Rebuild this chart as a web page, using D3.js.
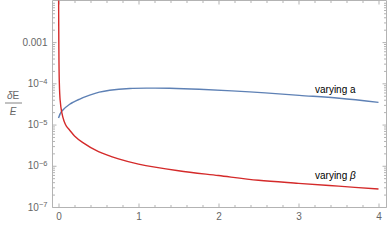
<!DOCTYPE html>
<html>
<head>
<meta charset="utf-8">
<script src="https://cdn.jsdelivr.net/npm/d3@7"></script>
<style>
  body { margin: 0; background: #fff; }
  svg { display: block; font-family: "Liberation Sans", Arial, sans-serif; }
  .frame path, .frame line { stroke: #b3b3b3; }
  .frame text { fill: #666; font-size: 10px; }
</style>
</head>
<body>
<div id="chart"></div>
<script>
let width = 390, height = 242;

// varying a (blue)
let xA = [0, 0.04, 0.14, 0.26, 0.39, 0.51, 0.64, 0.89, 1.14, 1.39, 1.76, 2.39, 3.01, 3.51, 4.0];
let yA = [1.45e-5, 2.1e-5, 3.1e-5, 4.1e-5, 5.15e-5, 6.1e-5, 6.8e-5, 7.5e-5, 7.65e-5, 7.6e-5, 7.2e-5, 6.2e-5, 5.1e-5, 4.35e-5, 3.45e-5];

// varying beta (red)
let xB = [0.001, 0.004, 0.01, 0.02, 0.04, 0.07, 0.1, 0.14, 0.2, 0.3, 0.5, 0.75, 1, 1.5, 2, 2.5, 3, 3.5, 4];
let yB = [3e-2, 1e-3, 1.1e-4, 4e-5, 2e-5, 1.2e-5, 9e-6, 7.3e-6, 5.3e-6, 3.7e-6, 2.2e-6, 1.47e-6, 1.1e-6, 7.6e-7, 5.8e-7, 4.45e-7, 3.75e-7, 3.2e-7, 2.73e-7];

let xTicks = [0, 1, 2, 3, 4];
let yTicks = [1e-7, 1e-6, 1e-5, 1e-4, 1e-3];
let yTickLabels = [["10", "\u22127"], ["10", "\u22126"], ["10", "\u22125"], ["10", "\u22124"], ["0.001", null]];

let x = d3.scaleLinear().domain([0, 4]).range([58.5, 378.5]);
let y = d3.scaleLog().domain([1e-7, 0.0105]).range([207, 0]);

let fLeft = 52.5, fRight = 386.5, fTop = 0.5, fBottom = 207.5;

let svg = d3.select("#chart").append("svg")
    .attr("width", width)
    .attr("height", height);

// minor tick values
let xMinor = d3.range(0, 4.01, 0.2).filter(v => Math.abs(v - Math.round(v)) > 1e-6);
let yMinor = [];
for (let e = -7; e <= -3; e++) {
    for (let m = 2; m <= 9; m++) yMinor.push(m * Math.pow(10, e));
}

// bottom axis
svg.append("g").attr("class", "frame")
    .attr("transform", `translate(0,${fBottom})`)
    .call(d3.axisBottom(x).tickValues(xTicks).tickFormat(d3.format("d"))
        .tickSizeInner(-4).tickSizeOuter(0).tickPadding(5))
    .call(g => g.select(".domain").attr("d", `M${fLeft},0H${fRight}`));
svg.append("g").attr("class", "frame")
    .attr("transform", `translate(0,${fBottom})`)
    .call(d3.axisBottom(x).tickValues(xMinor).tickSizeInner(-2.5).tickSizeOuter(0).tickFormat(""))
    .call(g => g.select(".domain").remove());

// top frame
svg.append("g").attr("class", "frame")
    .attr("transform", `translate(0,${fTop})`)
    .call(d3.axisTop(x).tickValues(xTicks).tickSizeInner(-4).tickSizeOuter(0).tickFormat(""))
    .call(g => g.select(".domain").attr("d", `M${fLeft},0H${fRight}`));
svg.append("g").attr("class", "frame")
    .attr("transform", `translate(0,${fTop})`)
    .call(d3.axisTop(x).tickValues(xMinor).tickSizeInner(-2.5).tickSizeOuter(0).tickFormat(""))
    .call(g => g.select(".domain").remove());

// left axis
let yAxis = svg.append("g").attr("class", "frame")
    .attr("transform", `translate(${fLeft},0)`)
    .call(d3.axisLeft(y).tickValues(yTicks).tickSizeInner(-4).tickSizeOuter(0).tickPadding(5))
    .call(g => g.select(".domain").attr("d", `M0,${fTop}V${fBottom}`));
yAxis.selectAll(".tick text").each(function(d, i) {
    let t = d3.select(this).text("");
    let lab = yTickLabels[i];
    t.append("tspan").text(lab[0]);
    if (lab[1]) t.append("tspan").attr("dy", "-0.45em").attr("font-size", "7.5px").text(lab[1]);
});
svg.append("g").attr("class", "frame")
    .attr("transform", `translate(${fLeft},0)`)
    .call(d3.axisLeft(y).tickValues(yMinor).tickSizeInner(-2.5).tickSizeOuter(0).tickFormat(""))
    .call(g => g.select(".domain").remove());

// right frame
svg.append("g").attr("class", "frame")
    .attr("transform", `translate(${fRight},0)`)
    .call(d3.axisRight(y).tickValues(yTicks).tickSizeInner(-4).tickSizeOuter(0).tickFormat(""))
    .call(g => g.select(".domain").attr("d", `M0,${fTop}V${fBottom}`));
svg.append("g").attr("class", "frame")
    .attr("transform", `translate(${fRight},0)`)
    .call(d3.axisRight(y).tickValues(yMinor).tickSizeInner(-2.5).tickSizeOuter(0).tickFormat(""))
    .call(g => g.select(".domain").remove());

// clip to plot area
svg.append("clipPath").attr("id", "clip")
    .append("rect")
    .attr("x", fLeft).attr("y", fTop)
    .attr("width", fRight - fLeft).attr("height", fBottom - fTop);

let line = d3.line()
    .x(d => x(d[0]))
    .y(d => y(d[1]))
    .curve(d3.curveCatmullRom.alpha(0.5));

let plot = svg.append("g").attr("clip-path", "url(#clip)");

plot.append("path")
    .datum(d3.zip(xA, yA))
    .attr("d", line)
    .attr("fill", "none")
    .attr("stroke", "#5e81b5")
    .attr("stroke-width", 1.4);

plot.append("path")
    .datum(d3.zip(xB, yB))
    .attr("d", line)
    .attr("fill", "none")
    .attr("stroke", "#d42a2a")
    .attr("stroke-width", 1.4);

// curve labels
svg.append("text")
    .attr("x", 315).attr("y", 93)
    .attr("font-size", "10px").attr("fill", "#000")
    .text("varying a");

let lb = svg.append("text")
    .attr("x", 315).attr("y", 178.5)
    .attr("font-size", "10px").attr("fill", "#000")
    .text("varying ");
lb.append("tspan").attr("font-style", "italic").text("\u03b2");

// y label as a fraction
let yl = svg.append("g").attr("fill", "#666").attr("font-size", "10px").attr("text-anchor", "middle");
let num = yl.append("text").attr("x", 13).attr("y", 99);
num.append("tspan").attr("font-style", "italic").text("\u03b4");
num.append("tspan").text("E");
yl.append("line")
    .attr("x1", 5).attr("x2", 22)
    .attr("y1", 103).attr("y2", 103)
    .attr("stroke", "#666").attr("stroke-width", 0.8);
yl.append("text").attr("x", 13).attr("y", 115)
    .attr("font-style", "italic").text("E");
</script>
</body>
</html>
